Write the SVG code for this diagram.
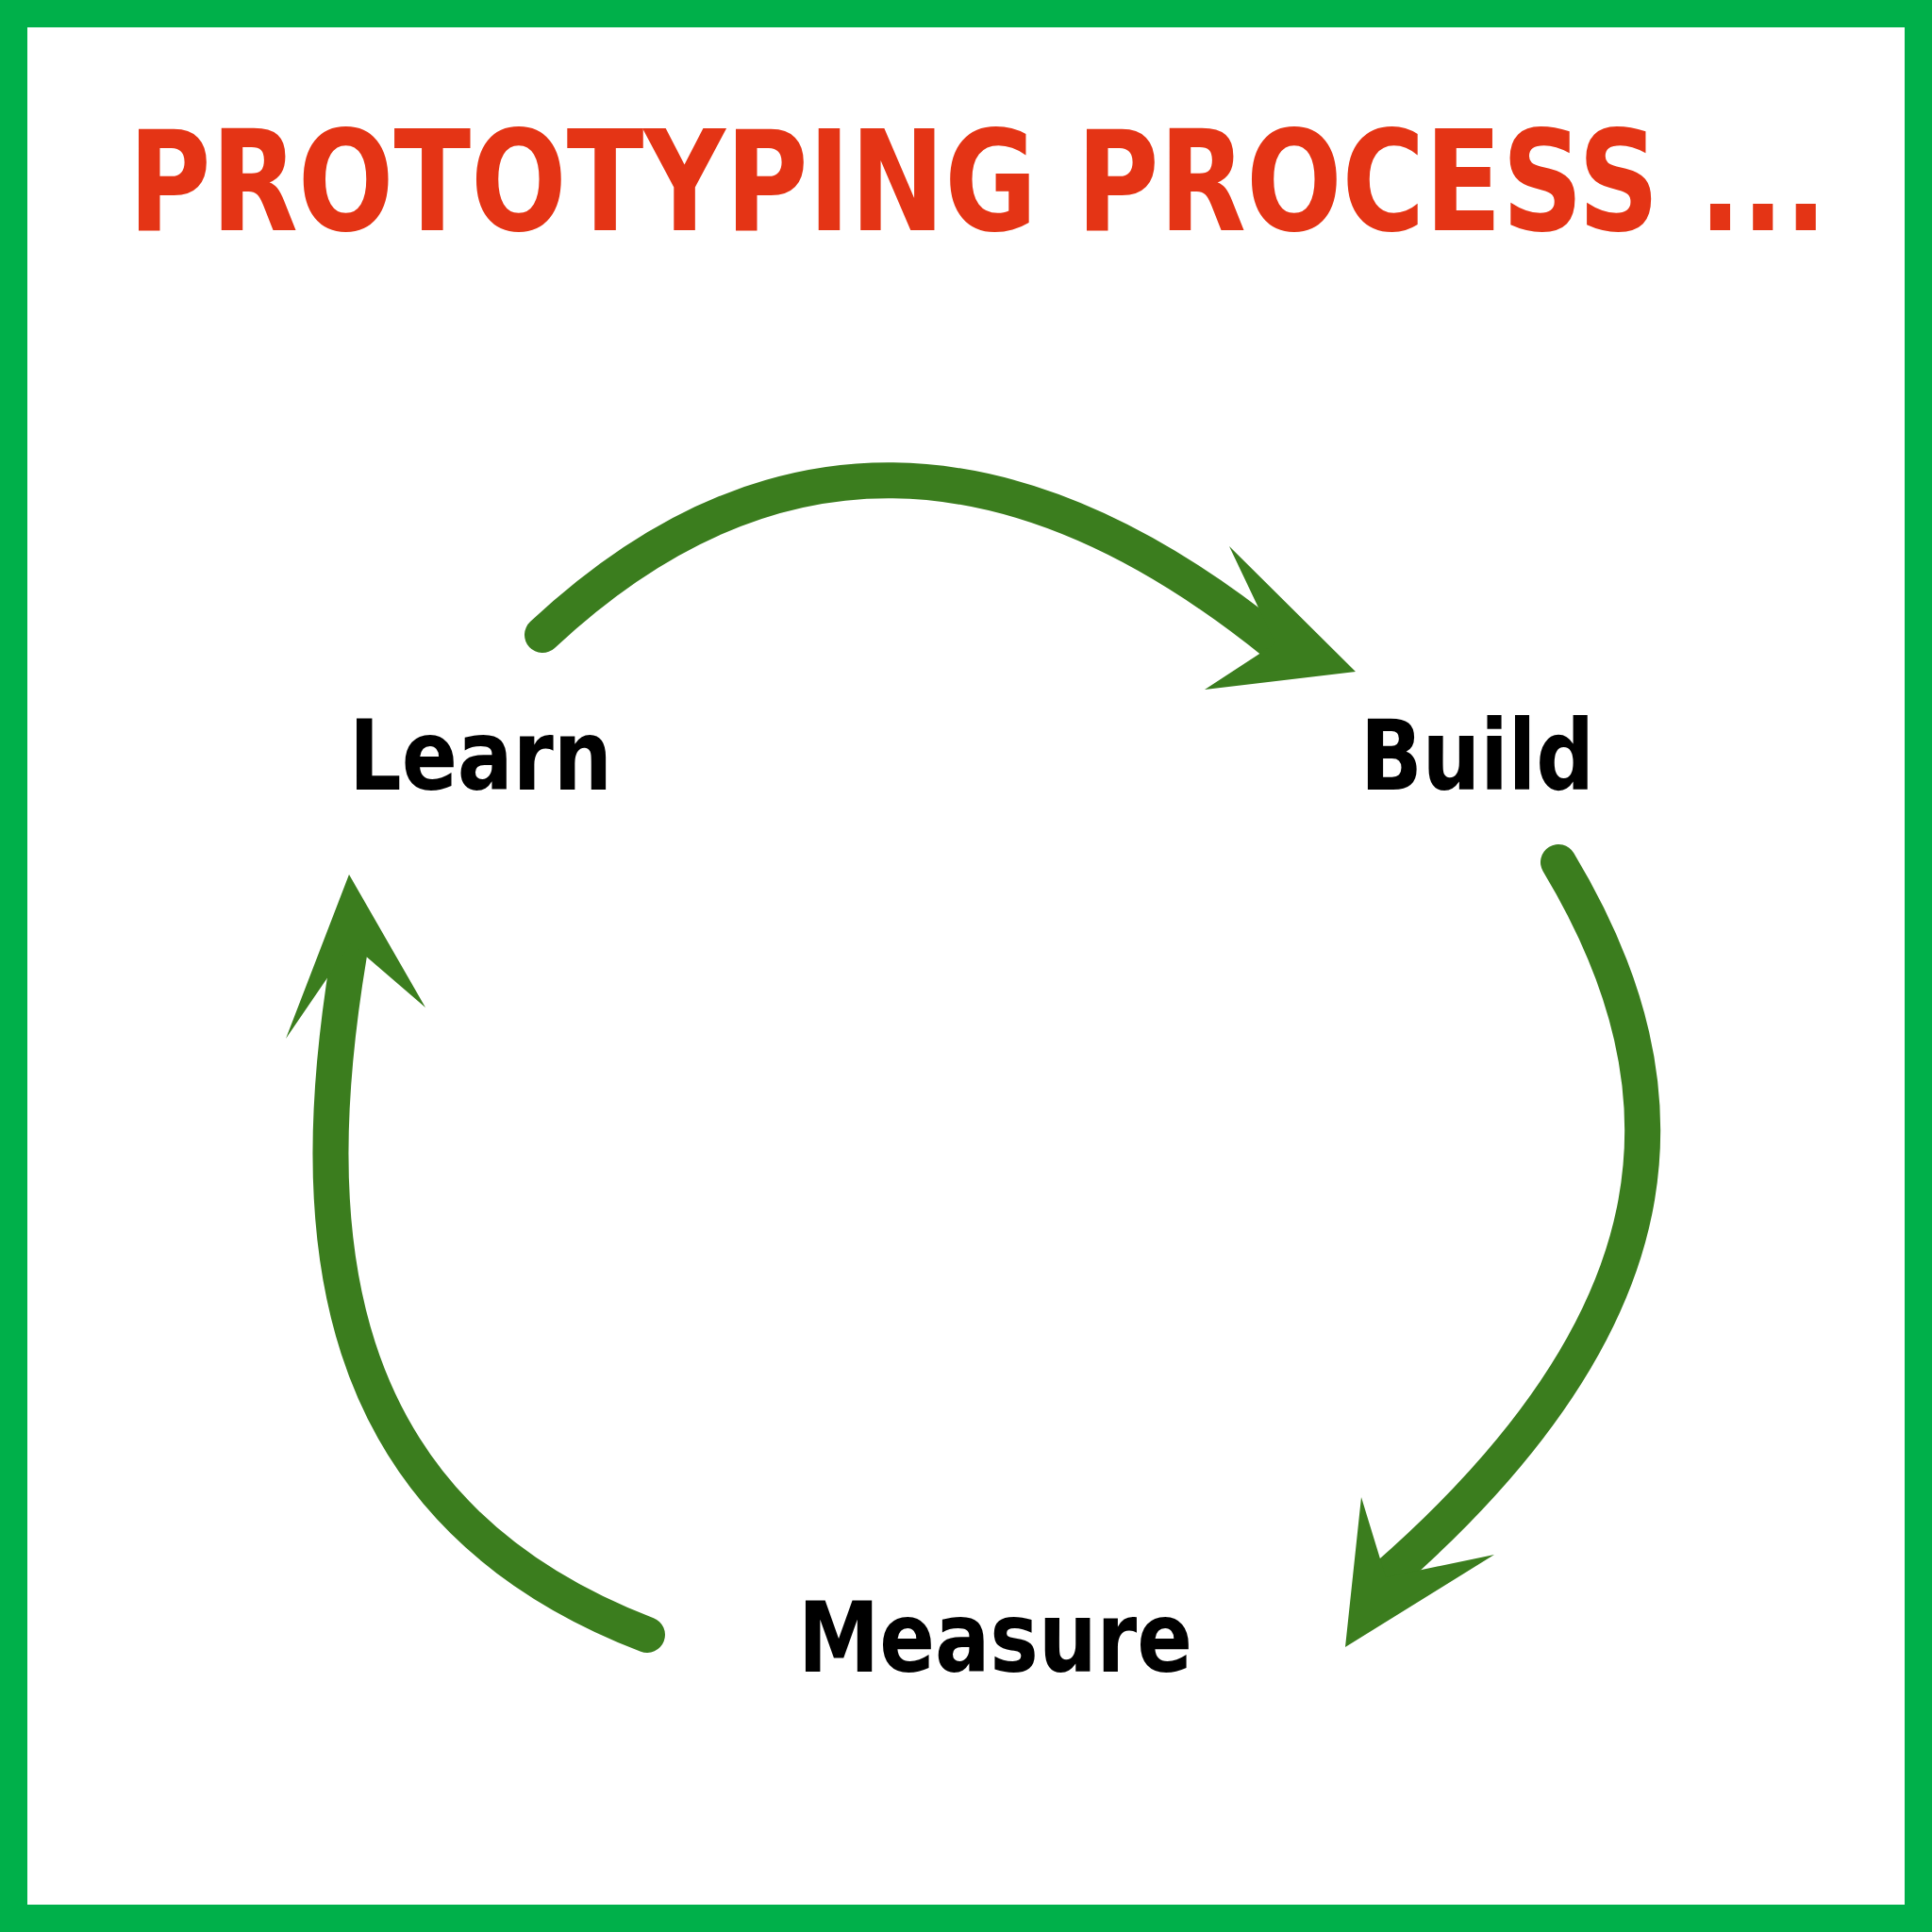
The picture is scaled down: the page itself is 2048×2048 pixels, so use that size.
<svg xmlns="http://www.w3.org/2000/svg" width="2048" height="2048" viewBox="0 0 2048 2048">
<style>
.t{font-family:"DejaVu Sans","Liberation Sans",sans-serif;font-weight:bold}
.arc{fill:none;stroke:#3b7d1e;stroke-width:38;stroke-linecap:round}
.head{fill:#3b7d1e}
</style>
<rect x="0" y="0" width="2048" height="2048" fill="#00b04a"/>
<rect x="29" y="29" width="1990" height="1990" fill="#ffffff"/>
<text class="t" x="136" y="244" font-size="148" fill="#e43415" textLength="1801" lengthAdjust="spacingAndGlyphs">PROTOTYPING PROCESS ...</text>
<g id="learn"><text class="t" x="370" y="837" font-size="104" textLength="279" lengthAdjust="spacingAndGlyphs">Learn</text></g>
<g id="build"><text class="t" x="1442" y="837" font-size="104" textLength="248" lengthAdjust="spacingAndGlyphs">Build</text></g>
<g id="measure"><text class="t" x="846" y="1772" font-size="104" textLength="418" lengthAdjust="spacingAndGlyphs">Measure</text></g>
<g id="connectors">
<path class="arc" d="M575 673 Q 930 341 1352 682"/>
<polygon class="head" points="1437,712 1303,579 1352,682 1277,731"/>
<path class="arc" d="M1652 914 C 1800 1160 1780 1400 1469 1672"/>
<polygon class="head" points="1426,1746 1443,1587 1469,1672 1584,1648"/>
<path class="arc" d="M686 1733 C 340 1600 320 1300 372 1000"/>
<polygon class="head" points="370,927 303,1101 372,1000 451,1068"/>
</g>
</svg>
